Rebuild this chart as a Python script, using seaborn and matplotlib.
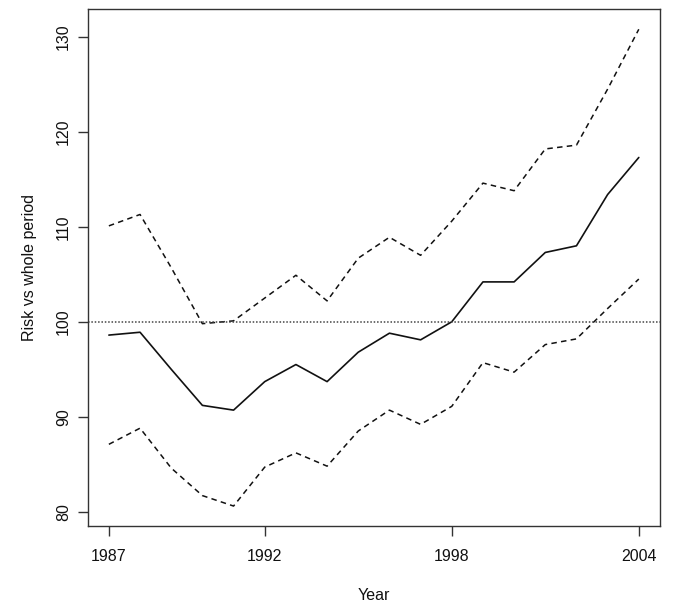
import matplotlib
matplotlib.use("Agg")
import matplotlib.pyplot as plt
import seaborn as sns
import pandas as pd

years = list(range(1987, 2005))
estimate = [98.6, 98.9, 95.0, 91.2, 90.7, 93.7, 95.5, 93.7, 96.8, 98.8,
            98.1, 100.0, 104.2, 104.2, 107.3, 108.0, 113.4, 117.3]
upper = [110.1, 111.3, 105.7, 99.8, 100.1, 102.5, 104.9, 102.2, 106.7, 108.9,
         107.0, 110.6, 114.6, 113.8, 118.2, 118.6, 124.5, 130.8]
lower = [87.1, 88.8, 84.6, 81.7, 80.6, 84.7, 86.2, 84.8, 88.5, 90.7,
         89.2, 91.1, 95.7, 94.7, 97.6, 98.2, 101.4, 104.5]
x_ticks = [1987, 1992, 1998, 2004]
y_ticks = [80, 90, 100, 110, 120, 130]
reference = 100

sns.set_style("ticks")
plt.rcParams['font.family'] = ['Liberation Sans', 'DejaVu Sans']

df = pd.DataFrame({"Year": years, "est": estimate, "up": upper, "lo": lower})

fig = plt.figure(figsize=(6.85, 6.13), dpi=100)
ax = fig.add_axes([0.128, 0.1424, 0.8355, 0.8424])

sns.lineplot(data=df, x="Year", y="est", ax=ax, color="#111111", lw=1.2)
sns.lineplot(data=df, x="Year", y="up", ax=ax, color="#111111", lw=1.1,
             linestyle=(0, (3.6, 2.8)))
sns.lineplot(data=df, x="Year", y="lo", ax=ax, color="#111111", lw=1.1,
             linestyle=(0, (3.6, 2.8)))
ax.axhline(reference, color="#444444", lw=1.1, linestyle=(0, (1.0, 1.2)))

ax.set_xlim(1986.32, 2004.68)
ax.set_ylim(78.53, 132.9)
ax.set_xticks(x_ticks)
ax.set_xticklabels([str(t) for t in x_ticks])
ax.set_yticks(y_ticks)
ax.set_yticklabels([str(t) for t in y_ticks], rotation=90, va="center")

ax.tick_params(axis="x", length=7, width=1, color="#333333", pad=10,
               labelsize=11.5, labelcolor="#111111")
ax.tick_params(axis="y", length=7, width=1, color="#333333", pad=5,
               labelsize=11.5, labelcolor="#111111")
for s in ax.spines.values():
    s.set_visible(True)
    s.set_color("#333333")
    s.set_linewidth(1.0)

ax.set_xlabel("Year", fontsize=11.5, color="#111111", labelpad=17)
ax.set_ylabel("Risk vs whole period", fontsize=11.5, color="#111111", labelpad=14)

fig.savefig("out.png", dpi=100)
